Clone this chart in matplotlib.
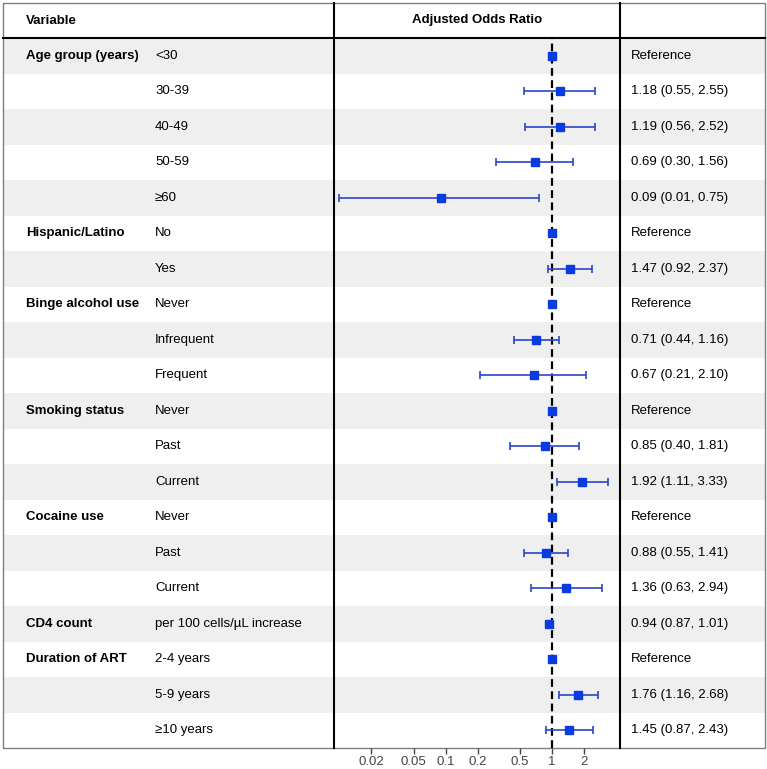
import numpy as np
import matplotlib.pyplot as plt
from matplotlib.patches import Rectangle

plt.rcParams['font.family'] = ['Liberation Sans', 'DejaVu Sans']

groups = ["Age group (years)", "", "", "", "",
          "Hispanic/Latino", "",
          "Binge alcohol use", "", "",
          "Smoking status", "", "",
          "Cocaine use", "", "",
          "CD4 count",
          "Duration of ART", "", ""]
levels = ["<30", "30-39", "40-49", "50-59", "\u226560",
          "No", "Yes",
          "Never", "Infrequent", "Frequent",
          "Never", "Past", "Current",
          "Never", "Past", "Current",
          "per 100 cells/\u00b5L increase",
          "2-4 years", "5-9 years", "\u226510 years"]
odds = [1, 1.18, 1.19, 0.69, 0.09,
        1, 1.47,
        1, 0.71, 0.67,
        1, 0.85, 1.92,
        1, 0.88, 1.36,
        0.94,
        1, 1.76, 1.45]
lower = [np.nan, 0.55, 0.56, 0.30, 0.01,
         np.nan, 0.92,
         np.nan, 0.44, 0.21,
         np.nan, 0.40, 1.11,
         np.nan, 0.55, 0.63,
         0.87,
         np.nan, 1.16, 0.87]
upper = [np.nan, 2.55, 2.52, 1.56, 0.75,
         np.nan, 2.37,
         np.nan, 1.16, 2.10,
         np.nan, 1.81, 3.33,
         np.nan, 1.41, 2.94,
         1.01,
         np.nan, 2.68, 2.43]
tick_vals = [0.02, 0.05, 0.1, 0.2, 0.5, 1, 2]
tick_labels = ["0.02", "0.05", "0.1", "0.2", "0.5", "1", "2"]

W, H = 767, 769
fig = plt.figure(figsize=(W / 100, H / 100), dpi=100)

# table background in pixel coords
bg = fig.add_axes([0, 0, 1, 1], zorder=0)
bg.set_xlim(0, W)
bg.set_ylim(H, 0)
bg.axis('off')

top, head, bottom = 3, 38, 748
left, right = 3, 765
div1, div2 = 334, 620
n = len(levels)
rh = (bottom - head) / n

for i in range(n):
    y0 = head + i * rh
    if i % 2 == 0:
        bg.add_patch(Rectangle((left, y0), right - left, rh, color='#efefef', lw=0))
    yc = y0 + rh / 2
    if groups[i]:
        bg.text(26, yc, groups[i], fontsize=9.5, fontweight='bold', va='center')
    bg.text(155, yc, levels[i], fontsize=9.5, va='center')
    if np.isnan(lower[i]):
        label = "Reference"
    else:
        label = f"{odds[i]:.2f} ({lower[i]:.2f}, {upper[i]:.2f})"
    bg.text(631, yc, label, fontsize=9.5, va='center')

bg.text(26, (top + head) / 2, "Variable", fontsize=9.5, fontweight='bold', va='center')
bg.text((div1 + div2) / 2, (top + head) / 2, "Adjusted Odds Ratio", fontsize=9.5,
        fontweight='bold', va='center', ha='center')

bg.add_patch(Rectangle((left, top), right - left, bottom - top, fill=False,
                       ec='#7f7f7f', lw=1.0))
bg.plot([left, right], [head, head], color='black', lw=1.5)
bg.plot([div1, div1], [top, bottom], color='black', lw=1.5)
bg.plot([div2, div2], [top, bottom], color='black', lw=1.5)

# forest panel
ax = fig.add_axes([div1 / W, 1 - bottom / H, (div2 - div1) / W, (bottom - head) / H], zorder=1)
ax.set_facecolor('none')
ax.set_xscale('log')
ax.set_xlim(0.0089, 4.36)
ax.set_ylim(n - 0.5, -0.5)
rows = np.arange(n)
odds_a = np.array(odds)
err = np.array([odds_a - np.array(lower), np.array(upper) - odds_a])
ax.errorbar(odds_a, rows, xerr=err, fmt='none', ecolor='#2b45c8', elinewidth=1.2,
            capsize=3, capthick=1.2, zorder=3)
ax.plot(odds_a, rows, 's', color='#0a3be0', markersize=6, zorder=4)
ax.axvline(1, color='black', ls=(0, (3.5, 2)), lw=1.6, zorder=2)

for s in ax.spines.values():
    s.set_visible(False)
ax.set_yticks([])
ax.set_xticks(tick_vals)
ax.set_xticklabels(tick_labels)
ax.minorticks_off()
ax.tick_params(axis='x', which='both', length=4, width=1, color='#444444',
               labelcolor='#444444', labelsize=9.5, pad=2)

fig.savefig('out.png', dpi=100)
